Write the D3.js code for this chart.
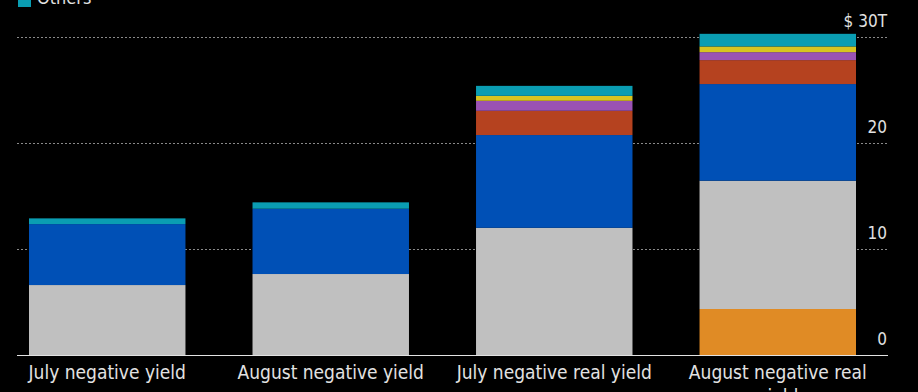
<!DOCTYPE html>
<html><head><meta charset="utf-8">
<script src="https://cdn.jsdelivr.net/npm/d3@7"></script>
<style>
html,body{margin:0;padding:0;background:#000;}
svg{display:block;}
text{font-family:"DejaVu Sans Condensed","DejaVu Sans",sans-serif;}
</style></head>
<body>
<svg id="chart" width="918" height="392"></svg>
<script>
const categories = ["July negative yield", "August negative yield", "July negative real yield", "August negative real yield"];
const seriesNames = ["U.S.", "Japan", "Euro area", "U.K.", "Canada", "Australia", "Others"];
const seriesColors = ["#e08b25", "#c0c0c0", "#0050b6", "#b5421f", "#9a52b4", "#d7c420", "#0a9db2"];
const usValues       = [0, 0, 0, 4.34];
const japanValues    = [6.6, 7.64, 12.0, 12.1];
const euroValues     = [5.75, 6.16, 8.75, 9.12];
const ukValues       = [0, 0, 2.29, 2.26];
const canadaValues   = [0, 0, 0.94, 0.75];
const australiaValues= [0, 0, 0.47, 0.54];
const othersValues   = [0.54, 0.6, 0.94, 1.19];
const yTicks = [0, 10, 20, 30];
const yTickLabels = ["0", "10", "20", "$ 30T"];

const seriesValues = [usValues, japanValues, euroValues, ukValues, canadaValues, australiaValues, othersValues];
const rows = categories.map((c, i) => {
  const r = {category: c};
  seriesNames.forEach((s, j) => r[s] = seriesValues[j][i]);
  return r;
});

const svg = d3.select("#chart");
const x = d3.scaleBand().domain(categories).range([29, 856]).paddingInner(0.3).paddingOuter(0);
const y = d3.scaleLinear().domain([0, 30]).range([355, 37]);
const gridX0 = 17, gridX1 = 888;
const textColor = "#e2e2e2";

// gridlines
svg.append("g").selectAll("line").data(yTicks.filter(t => t > 0)).join("line")
  .attr("x1", gridX0).attr("x2", gridX1)
  .attr("y1", d => y(d) + 0.5).attr("y2", d => y(d) + 0.5)
  .attr("stroke", "#8a8a8a").attr("stroke-width", 1).attr("stroke-dasharray", "2,2");

// tick labels
svg.append("g").selectAll("text").data(yTicks).join("text")
  .attr("x", gridX1 - 1).attr("y", d => y(d) - 10)
  .attr("text-anchor", "end").attr("fill", textColor).attr("font-size", 17)
  .text((d, i) => yTickLabels[i]);

// stacked bars
const stack = d3.stack().keys(seriesNames)(rows);
svg.append("g").selectAll("g").data(stack).join("g")
  .attr("fill", (d, i) => seriesColors[i])
  .selectAll("rect").data(d => d).join("rect")
  .attr("x", d => x(d.data.category))
  .attr("width", x.bandwidth())
  .attr("y", d => y(d[1]))
  .attr("height", d => Math.max(0, y(d[0]) - y(d[1])));

// axis line
svg.append("line").attr("x1", gridX0).attr("x2", gridX1).attr("y1", 355.5).attr("y2", 355.5)
  .attr("stroke", textColor).attr("stroke-width", 1);

// x labels with wrapping
const wrapWidth = 215;
svg.append("g").selectAll("text").data(categories).join("text")
  .attr("x", d => x(d) + x.bandwidth() / 2).attr("y", 379)
  .attr("text-anchor", "middle").attr("fill", textColor).attr("font-size", 19)
  .each(function(d) {
    const t = d3.select(this);
    const words = d.split(" ");
    let line = [];
    let tspan = t.append("tspan").attr("x", x(d) + x.bandwidth() / 2).attr("dy", 0);
    words.forEach(w => {
      line.push(w);
      tspan.text(line.join(" "));
      if (tspan.node().getComputedTextLength() > wrapWidth && line.length > 1) {
        line.pop();
        tspan.text(line.join(" "));
        line = [w];
        tspan = t.append("tspan").attr("x", x(d) + x.bandwidth() / 2).attr("dy", 24).text(w);
      }
    });
  });

// legend (only the last row is visible at the top edge)
const legend = svg.append("g");
const legendRows = seriesNames.slice().reverse();
legendRows.forEach((name, i) => {
  const by = 4 - i * 22;
  const color = seriesColors[seriesNames.indexOf(name)];
  legend.append("rect").attr("x", 18).attr("y", by - 12).attr("width", 13).attr("height", 15).attr("fill", color);
  legend.append("text").attr("x", 37).attr("y", by).attr("fill", textColor).attr("font-size", 18).text(name);
});
</script>
</body></html>
